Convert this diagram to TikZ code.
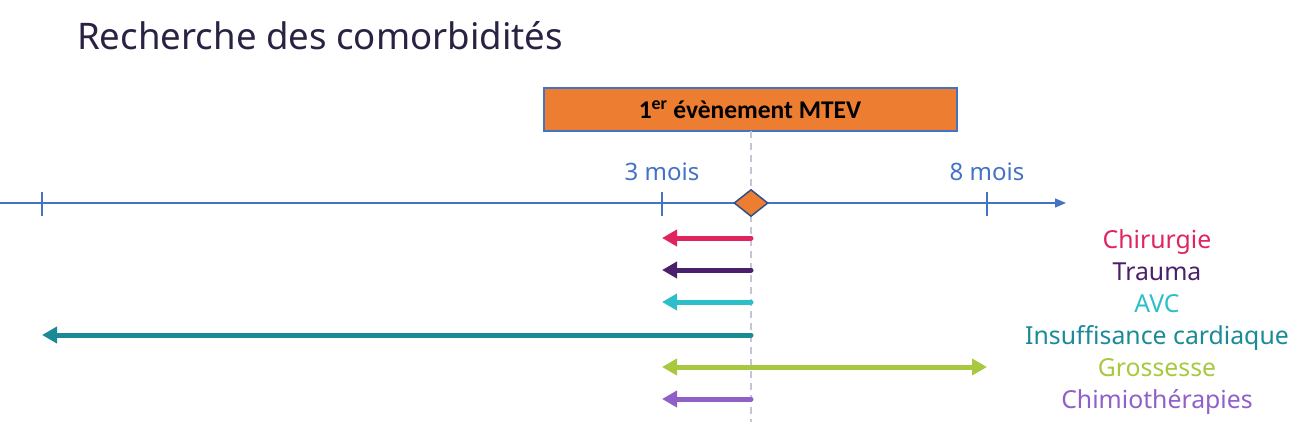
\documentclass[tikz,border=0pt]{standalone}
\usepackage{fontspec}
\setmainfont{Noto Sans}
\newfontfamily\boxfont{Carlito}
\usetikzlibrary{arrows.meta,shapes.geometric}
\definecolor{axisblue}{HTML}{4472C4}
\definecolor{mtevorange}{HTML}{ED7D31}
\definecolor{titlecol}{HTML}{2B2142}
\definecolor{cChir}{HTML}{E0245E}
\definecolor{cTrauma}{HTML}{4B206B}
\definecolor{cAVC}{HTML}{2CBFC9}
\definecolor{cInsuf}{HTML}{1A8A96}
\definecolor{cGross}{HTML}{A8C83F}
\definecolor{cChimio}{HTML}{9060C8}
\definecolor{dashcol}{HTML}{C8C4D8}
\begin{document}
\begin{tikzpicture}[x=1pt,y=-1pt,
  lbl/.style={font=\fontsize{24.8}{28}\selectfont, anchor=base, inner sep=0pt},
  comarrow/.style={line width=5pt, line cap=round, -{Triangle[length=15pt,width=16pt]}},
  tick/.style={axisblue, line width=1.2pt},
]
\useasboundingbox (0,0) rectangle (1311,429);
% title
\node[anchor=base west, text=titlecol, font=\fontsize{36.6}{40}\selectfont, inner sep=0pt] (title) at (77,49) {Recherche des comorbidités};
% box
\node[draw=axisblue, line width=2pt, fill=mtevorange, minimum width=413pt, minimum height=43pt, inner sep=0pt,
  font=\boxfont\bfseries\fontsize{25.5}{28}\selectfont] (box) at (750,109.5) {1\textsuperscript{er} évènement MTEV};
% axis
\coordinate (axL) at (0,203);
\coordinate (axR) at (1066,203);
\draw[axisblue, line width=1.3pt, -{Triangle[length=11pt,width=9pt]}] (axL) -- (axR);
\coordinate (t0) at (42,203);
\coordinate (t3) at (662,203);
\coordinate (t8) at (987,203);
\foreach \t in {t0,t3,t8} \draw[tick] ([yshift=-13pt]\t) -- ([yshift=11pt]\t);
\node[lbl, text=axisblue, font=\fontsize{24}{28}\selectfont] (m3) at (662,180) {3 mois};
\node[lbl, text=axisblue, font=\fontsize{24}{28}\selectfont] (m8) at (987,180) {8 mois};
% dashed line
\coordinate (dtop) at (751,131);
\coordinate (dbot) at (751,422);
\draw[dashcol, line width=1.8pt, dash pattern=on 7pt off 5pt] (dtop) -- (dbot);
% diamond
\node[diamond, draw=axisblue!70!black, line width=1.5pt, fill=mtevorange, minimum width=34pt, minimum height=27pt, inner sep=0pt] (ev) at (751,203) {};
% arrows
\coordinate (s1) at (751,238); \coordinate (e1) at (662,238);
\coordinate (s2) at (751,270); \coordinate (e2) at (662,270);
\coordinate (s3) at (751,302); \coordinate (e3) at (662,302);
\coordinate (s4) at (751,335); \coordinate (e4) at (42,335);
\coordinate (s5) at (662,367); \coordinate (e5) at (987,367);
\coordinate (s6) at (751,399); \coordinate (e6) at (662,399);
\draw[comarrow, cChir] (s1) -- (e1);
\draw[comarrow, cTrauma] (s2) -- (e2);
\draw[comarrow, cAVC] (s3) -- (e3);
\draw[comarrow, cInsuf] (s4) -- (e4);
\draw[comarrow, cGross, {Triangle[length=15pt,width=16pt]}-{Triangle[length=15pt,width=16pt]}] (s5) -- (e5);
\draw[comarrow, cChimio] (s6) -- (e6);
% labels
\node[lbl, text=cChir] (l1) at (1157,248) {Chirurgie};
\node[lbl, text=cTrauma] (l2) at (1157,280) {Trauma};
\node[lbl, text=cAVC] (l3) at (1157,312) {AVC};
\node[lbl, text=cInsuf] (l4) at (1157,344) {Insuffisance cardiaque};
\node[lbl, text=cGross] (l5) at (1157,376) {Grossesse};
\node[lbl, text=cChimio] (l6) at (1157,408) {Chimiothérapies};
\end{tikzpicture}
\end{document}
